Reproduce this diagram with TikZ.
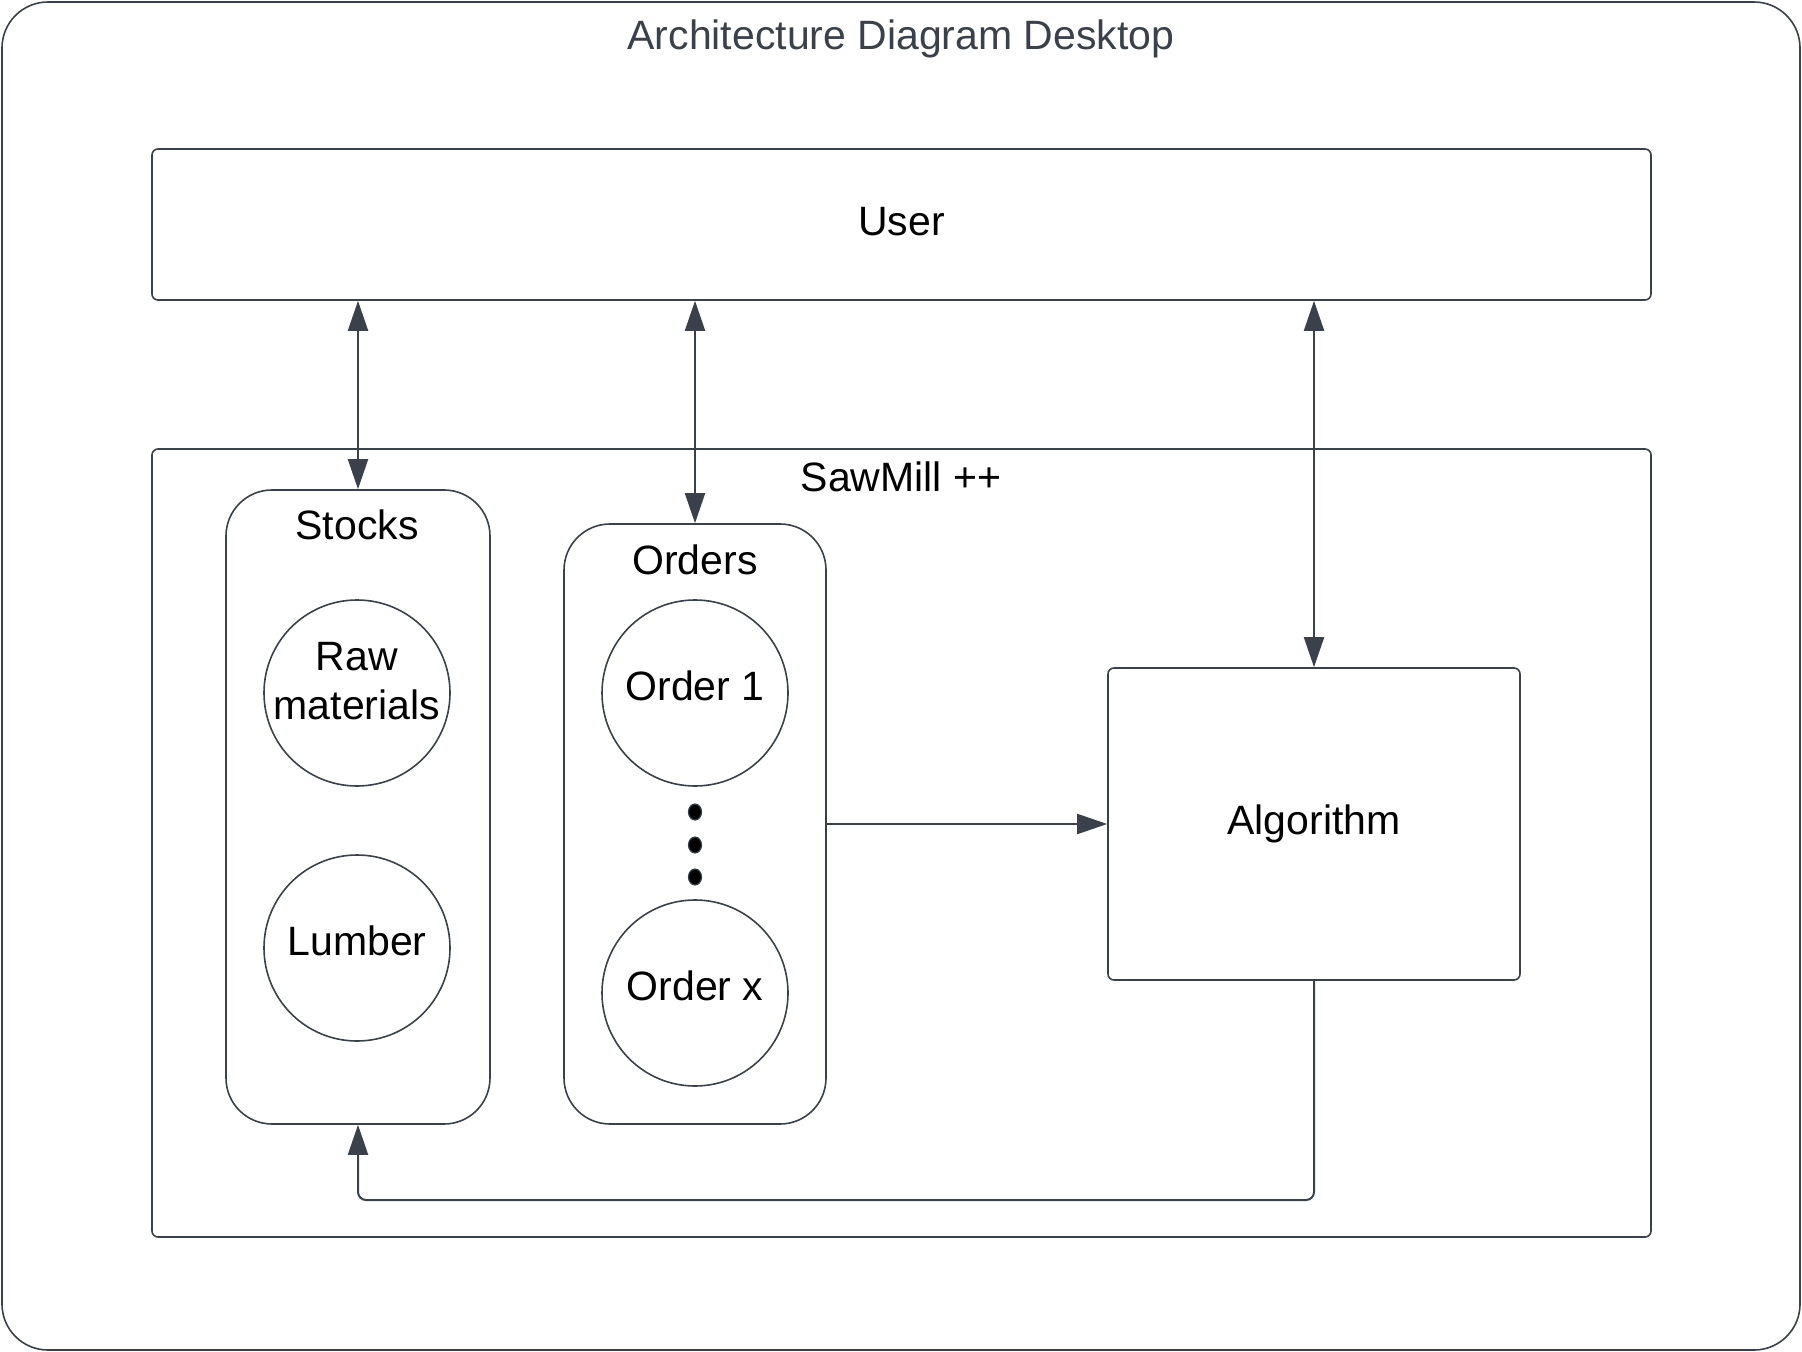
\documentclass[tikz,border=0pt]{standalone}
\usepackage{fontspec}
\setmainfont{Liberation Sans}
\usetikzlibrary{arrows.meta, positioning}
\definecolor{edgegray}{HTML}{3A414A}

\begin{document}
\begin{tikzpicture}[x=0.5pt, y=-0.5pt,
  desk/.style={rectangle, draw=edgegray, line width=0.8pt, rounded corners=23pt,
    minimum width=899pt, minimum height=674pt},
  block/.style={rectangle, draw=edgegray, line width=0.8pt, rounded corners=3pt,
    text centered, font=\fontsize{20.5}{24.5}\selectfont},
  group/.style={rectangle, draw=edgegray, line width=0.8pt, rounded corners=23pt,
    minimum width=132pt},
  item/.style={circle, draw=edgegray, line width=0.8pt, minimum size=93pt, inner sep=0pt,
    align=center, text depth=7pt, font=\fontsize{20.5}{24.5}\selectfont},
  caption/.style={font=\fontsize{20.5}{24.5}\selectfont},
  arrow/.style={-{Triangle[length=15pt, width=10pt]}, draw=edgegray, line width=1pt},
  biarrow/.style={{Triangle[length=15pt, width=10pt]}-{Triangle[length=15pt, width=10pt]},
    draw=edgegray, line width=1pt}
]
\useasboundingbox (0,0) rectangle (1802,1352);

\node (desktop) [desk] at (901,676) {};
\node (title) [caption, text=edgegray] at (901,39) {Architecture Diagram Desktop};

\node (user) [block, minimum width=749.5pt, minimum height=75.5pt, text depth=3pt] at (901.5,224.5) {User};

\node (saw) [block, minimum width=749.5pt, minimum height=394pt] at (901.5,843) {};
\node (sawlbl) [caption] at (901,477) {SawMill ++};

% stocks group
\node (stocks) [group, minimum height=317pt] at (358,807) {};
\node (stockslbl) [caption] at (357,525) {Stocks};
\node (raw) [item, text depth=12pt, inner sep=-6pt] at (357,693) {Raw\\materials};
\node (lumber) [item] at (357,948) {Lumber};

% orders group
\node (orders) [group, minimum width=131pt, minimum height=300pt] at (695,824) {};
\node (orderslbl) [caption] at (695,560) {Orders};
\node (order1) [item] at (695,693) {Order 1};
\node (orderx) [item] at (695,993) {Order x};
\foreach \y in {812,845,877}
  \filldraw[fill=black, draw=edgegray, line width=0.6pt] (695,\y) ellipse (6.5 and 8);

\node (algo) [block, minimum width=206pt, minimum height=156pt] at (1314,824) {Algorithm};

\draw [biarrow] (user.south -| stocks.north) -- (stocks.north);
\draw [biarrow] (user.south -| orders.north) -- (orders.north);
\draw [biarrow] (user.south -| algo.north) -- (algo.north);
\draw [arrow] (orders.east) -- (algo.west);

\coordinate (loop) at (1314,1200);
\draw [arrow, rounded corners=4pt] (algo.south) -- (loop) -| (stocks.south);

\end{tikzpicture}
\end{document}
